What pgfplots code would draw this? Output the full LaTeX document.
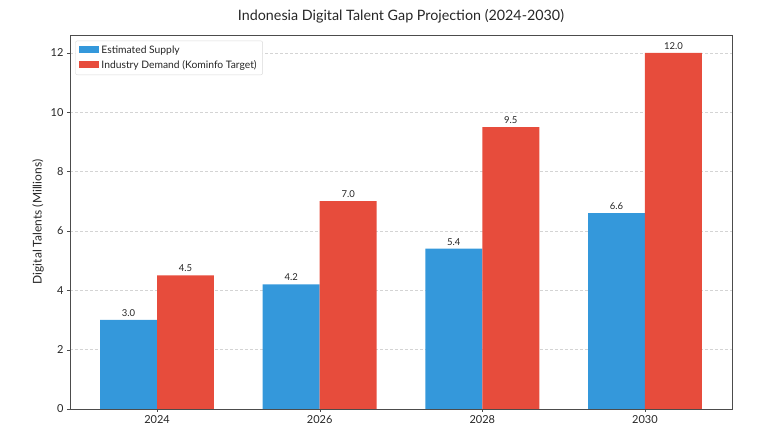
\documentclass[border=0pt]{standalone}
\usepackage{pgfplots}
\pgfplotsset{compat=1.18}
\usepackage{fontspec}
\setmainfont{Lato}
\definecolor{cblue}{HTML}{3498DB}
\definecolor{cred}{HTML}{E74C3C}
\begin{document}
\begin{tikzpicture}[x=1pt,y=1pt]
\useasboundingbox (-70pt,-32pt) rectangle (698pt,409pt);
\begin{axis}[
  at={(0pt,0pt)}, anchor=south west,
  scale only axis, width=662pt, height=374pt,
  ybar, bar width=0.35,
  xmin=-0.535, xmax=3.535, ymin=0, ymax=12.6,
  xtick={0,1,2,3}, xticklabels={2024,2026,2028,2030},
  ytick={0,2,4,6,8,10,12},
  xtick pos=bottom, ytick pos=left,
  tick align=outside, major tick length=3pt,
  tick style={color=black!70},
  axis line style={color=black!70},
  ymajorgrids, grid style={dash pattern=on 3pt off 2pt, color=black!17},
  /pgf/number format/assume math mode=true,
  ticklabel style={font=\fontsize{11}{13}\selectfont, color=black!85},
  ylabel={Digital Talents (Millions)},
  ylabel style={font=\fontsize{12}{14}\selectfont, color=black!85},
  title={Indonesia Digital Talent Gap Projection (2024-2030)},
  title style={font=\fontsize{14.3}{16}\selectfont, color=black!85, yshift=2pt},
  nodes near coords,
  nodes near coords style={font=\fontsize{9.5}{10}\selectfont, color=black!85, /pgf/number format/.cd, fixed, fixed zerofill, precision=1},
  legend style={at={(0.008,0.985)}, anchor=north west, draw=black!15, rounded corners=2pt, font=\fontsize{10.3}{12}\selectfont, text=black!85, row sep=1.5pt, inner xsep=4pt, inner ysep=3pt},
  legend cell align=left,
  legend image code/.code={\fill[#1, sharp corners] (0pt,-3pt) rectangle (20pt,4pt);},
]
\addplot[fill=cblue, draw=none, bar shift=-0.175] coordinates {(0,3.0) (1,4.2) (2,5.4) (3,6.6)};
\addplot[fill=cred, draw=none, bar shift=0.175] coordinates {(0,4.5) (1,7.0) (2,9.5) (3,12.0)};
\legend{Estimated Supply, Industry Demand (Kominfo Target)}
\end{axis}
\end{tikzpicture}
\end{document}
